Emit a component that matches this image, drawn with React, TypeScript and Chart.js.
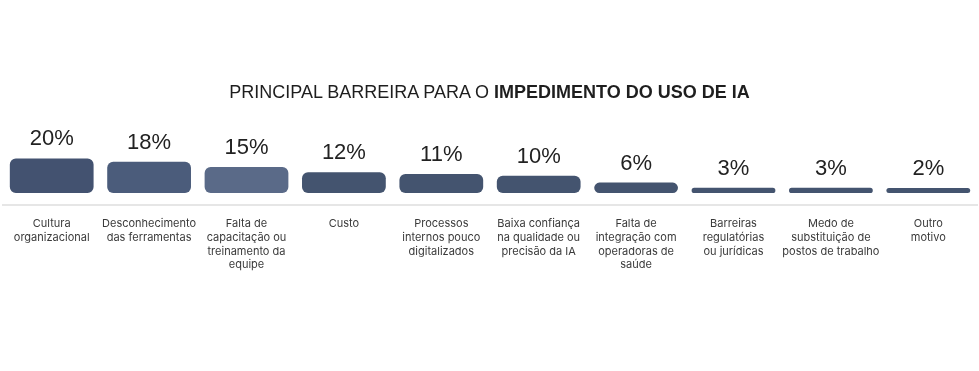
import React, { useEffect, useRef } from "react";
import { Chart, registerables } from "chart.js";

Chart.register(...registerables);

const categories: string[][] = [
  ["Cultura", "organizacional"],
  ["Desconhecimento", "das ferramentas"],
  ["Falta de", "capacitação ou", "treinamento da", "equipe"],
  ["Custo"],
  ["Processos", "internos pouco", "digitalizados"],
  ["Baixa confiança", "na qualidade ou", "precisão da IA"],
  ["Falta de", "integração com", "operadoras de", "saúde"],
  ["Barreiras", "regulatórias", "ou jurídicas"],
  ["Medo de", "substituição de", "postos de trabalho"],
  ["Outro", "motivo"],
];
const values: number[] = [20, 18, 15, 12, 11, 10, 6, 3, 3, 2];
const barColors: string[] = [
  "#435270", "#4b5c7b", "#5a6a88", "#44546f", "#44546f",
  "#44546f", "#44546f", "#44546f", "#44546f", "#44546f",
];
const titleNormal = "PRINCIPAL BARREIRA PARA O ";
const titleBold = "IMPEDIMENTO DO USO DE IA";

const valueLabels = {
  id: "valueLabels",
  afterDatasetsDraw(chart: any) {
    const ctx = chart.ctx;
    const meta = chart.getDatasetMeta(0);
    ctx.save();
    ctx.font = '22px "Liberation Sans", Arial, sans-serif';
    ctx.fillStyle = "#222222";
    ctx.textAlign = "center";
    ctx.textBaseline = "alphabetic";
    meta.data.forEach((bar: any, i: number) => {
      ctx.fillText(values[i] + "%", bar.x, bar.y - 13);
    });
    ctx.restore();
  },
};

export default function App() {
  const ref = useRef<HTMLCanvasElement | null>(null);
  useEffect(() => {
    if (!ref.current) return;
    const chart = new Chart(ref.current, {
      type: "bar",
      data: {
        labels: categories,
        datasets: [
          {
            data: values,
            backgroundColor: barColors,
            borderRadius: 6,
            borderSkipped: false,
            barPercentage: 0.86,
            categoryPercentage: 1,
            minBarLength: 5,
          },
        ],
      },
      options: {
        animation: false,
        responsive: false,
        maintainAspectRatio: false,
        layout: { padding: { top: 120, left: 3, right: 2, bottom: 0 } },
        plugins: {
          legend: { display: false },
          title: { display: false },
          tooltip: { enabled: false },
        },
        scales: {
          y: {
            display: false,
            min: -6.94,
            max: 42.2,
          },
          x: {
            grid: { display: false, drawTicks: false },
            border: { display: true, color: "#e6e6e6", width: 2 },
            ticks: {
              autoSkip: false,
              maxRotation: 0,
              minRotation: 0,
              padding: 12,
              color: "#3a3a3a",
              font: { family: "Inter, 'Liberation Sans', sans-serif", size: 11, lineHeight: 1.25 },
            },
            afterFit: (scale: any) => {
              scale.height = 166;
            },
          },
        },
      },
      plugins: [valueLabels],
    });
    return () => chart.destroy();
  }, []);

  return (
    <div style={{ position: "absolute", left: 0, top: 0, width: 979, height: 371, background: "#ffffff" }}>
      <canvas ref={ref} width={979} height={371} style={{ position: "absolute", left: 0, top: 0 }} />
      <div
        style={{
          position: "absolute",
          left: 0,
          top: 81,
          width: 979,
          textAlign: "center",
          fontFamily: "'Liberation Sans', Arial, sans-serif",
          fontSize: 18,
          lineHeight: "22px",
          color: "#1e1e1e",
          whiteSpace: "nowrap",
        }}
      >
        {titleNormal}
        <b>{titleBold}</b>
      </div>
    </div>
  );
}
